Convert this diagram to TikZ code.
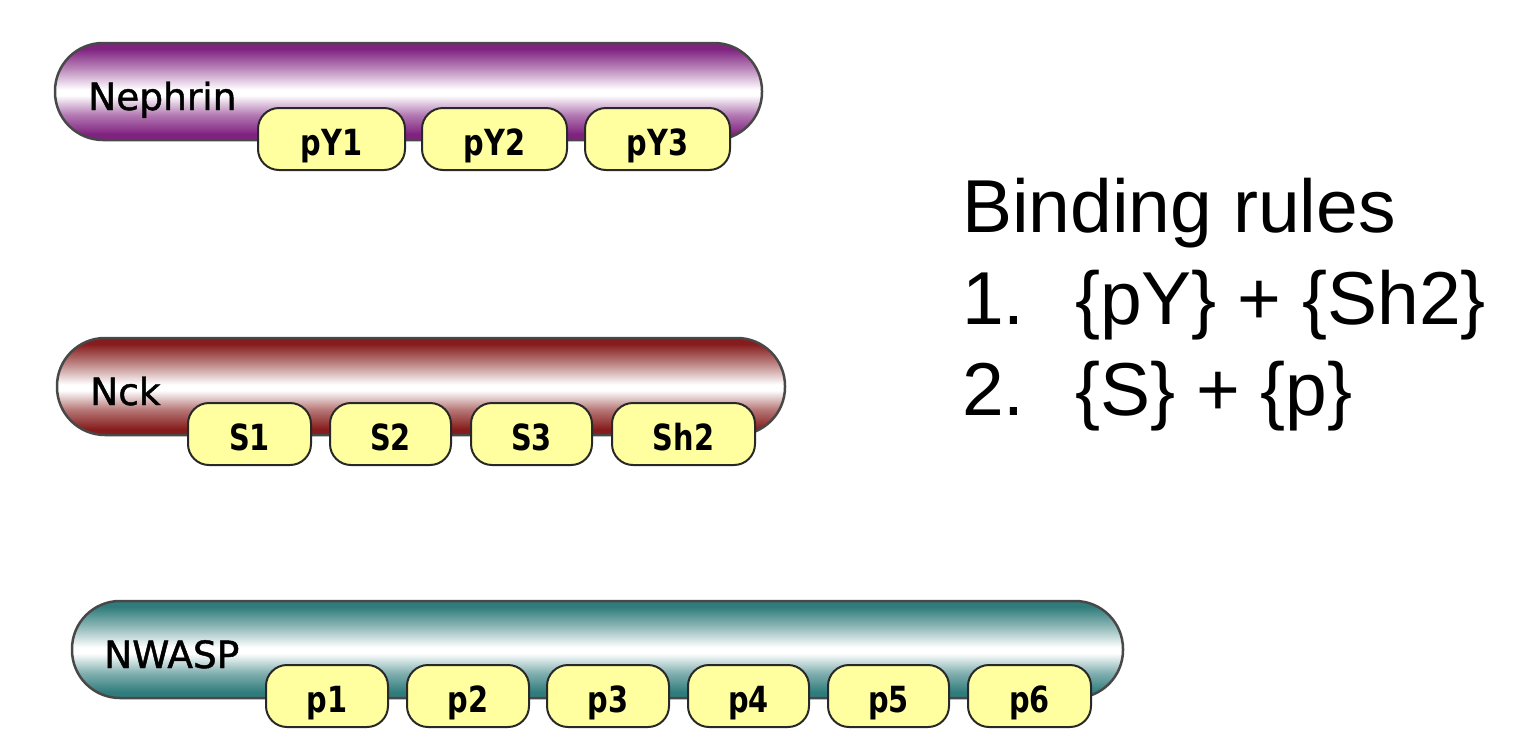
\documentclass[tikz,border=0pt]{standalone}
\usepackage{fontspec}
\setmainfont{Liberation Sans}
\newfontfamily\protfont[FakeBold=1.2]{DejaVu Sans}
\newfontfamily\domfont[FakeStretch=0.8]{DejaVu Sans}
\definecolor{npurple}{RGB}{128,34,128}
\definecolor{nred}{RGB}{134,28,28}
\definecolor{nteal}{RGB}{48,124,124}
\definecolor{barline}{RGB}{72,72,72}
\definecolor{domline}{RGB}{40,40,40}
\definecolor{domfill}{RGB}{255,255,160}
\pgfdeclareverticalshading{nephshade}{100bp}{color(0bp)=(npurple); color(28bp)=(npurple); color(38bp)=(npurple!60!white); color(48bp)=(white); color(51bp)=(white); color(62bp)=(npurple!55!white); color(72bp)=(npurple); color(100bp)=(npurple)}
\pgfdeclareverticalshading{nckshade}{100bp}{color(0bp)=(nred); color(28bp)=(nred); color(38bp)=(nred!60!white); color(48bp)=(white); color(51bp)=(white); color(62bp)=(nred!55!white); color(72bp)=(nred); color(100bp)=(nred)}
\pgfdeclareverticalshading{wasshade}{100bp}{color(0bp)=(nteal); color(28bp)=(nteal); color(38bp)=(nteal!60!white); color(48bp)=(white); color(51bp)=(white); color(62bp)=(nteal!55!white); color(72bp)=(nteal); color(100bp)=(nteal)}
\begin{document}
\begin{tikzpicture}[x=1pt,y=-1pt,
  bar/.style={draw=barline, line width=2.5pt, minimum height=97pt, inner sep=0pt, rounded corners=48pt},
  dom/.style={draw=domline, line width=2pt, fill=domfill, rounded corners=21pt, minimum height=62pt, inner sep=0pt, text height=33pt, text depth=0pt, font=\domfont\bfseries\fontsize{36}{36}\selectfont},
  plabel/.style={anchor=base west, inner sep=0pt, font=\protfont\fontsize{37.5}{37.5}\selectfont},
  rtext/.style={anchor=base west, inner sep=0pt, font=\fontsize{75}{75}\selectfont}]
\useasboundingbox (0,0) rectangle (1518,745);
% bars
\node[bar, shading=nephshade, minimum width=707pt] (neph) at (408.5,91.5) {};
\node[bar, shading=nckshade, minimum width=728pt] (nck) at (421,386.5) {};
\node[bar, shading=wasshade, minimum width=1051pt] (nwasp) at (597.5,649.5) {};
% protein names
\node[plabel] (nephlbl) at (88,110) {Nephrin};
\node[plabel] (ncklbl) at (90,405) {Nck};
\node[plabel] (nwasplbl) at (104,668) {NWASP};
% Nephrin domains
\node[dom, minimum width=147pt] (py1) at (331.5,139) {pY1};
\node[dom, minimum width=145pt] (py2) at (494.5,139) {pY2};
\node[dom, minimum width=145pt] (py3) at (657.5,139) {pY3};
% Nck domains
\node[dom, minimum width=123pt] (s1) at (249.5,434) {S1};
\node[dom, minimum width=121pt] (s2) at (390.5,434) {S2};
\node[dom, minimum width=121pt] (s3) at (531.5,434) {S3};
\node[dom, minimum width=143pt] (sh2) at (683.5,434) {Sh2};
% NWASP domains
\node[dom, minimum width=122pt] (p1) at (327,696) {p1};
\node[dom, minimum width=122pt] (p2) at (468,696) {p2};
\node[dom, minimum width=122pt] (p3) at (608,696) {p3};
\node[dom, minimum width=121pt] (p4) at (748.5,696) {p4};
\node[dom, minimum width=121pt] (p5) at (888.5,696) {p5};
\node[dom, minimum width=123pt] (p6) at (1029.5,696) {p6};
% rules
\node[rtext] (title) at (962,232) {Binding rules};
\node[rtext] (n1) at (962,324) {1.};
\node[rtext] (r1) at (1075,324) {\{pY\} + \{Sh2\}};
\node[rtext] (n2) at (962,415) {2.};
\node[rtext] (r2) at (1075,415) {\{S\} + \{p\}};
\end{tikzpicture}
\end{document}
